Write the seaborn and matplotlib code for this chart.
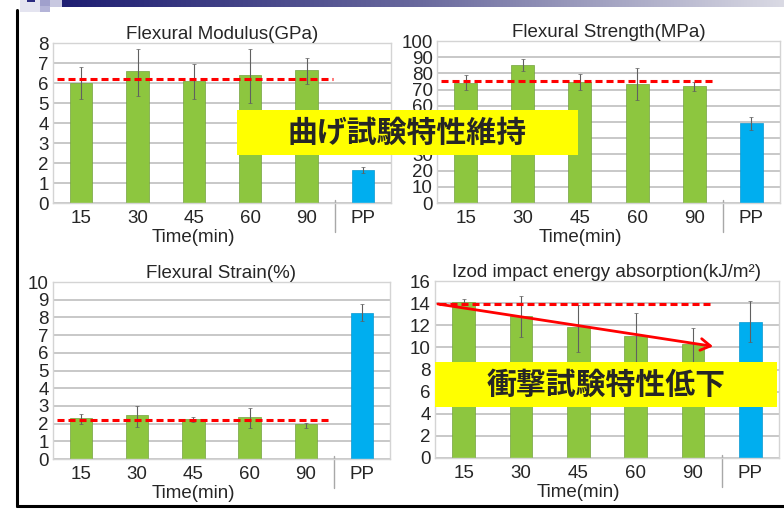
import numpy as np
import pandas as pd
import matplotlib
matplotlib.use("Agg")
import matplotlib.pyplot as plt
import matplotlib.transforms as mtransforms
from matplotlib.colors import LinearSegmentedColormap
from matplotlib.patches import Rectangle
from matplotlib.lines import Line2D
import seaborn as sns

# data
times = ["15", "30", "45", "60", "90", "PP"]

modulus = [6.0, 6.58, 6.08, 6.4, 6.67, 1.65]
modulus_lo = [5.22, 5.33, 5.18, 5.02, 5.97, 1.52]
modulus_hi = [6.8, 7.68, 6.93, 7.68, 7.27, 1.8]
modulus_ref = 6.22

strength = [74.0, 85.4, 74.7, 73.3, 72.4, 49.4]
strength_lo = [69.5, 81.3, 70.0, 63.4, 69.0, 44.9]
strength_hi = [78.8, 89.0, 79.4, 83.3, 74.7, 53.0]
strength_ref = 75.5

strain = [2.29, 2.48, 2.24, 2.35, 1.95, 8.27]
strain_lo = [2.0, 1.82, 2.1, 1.73, 1.77, 7.78]
strain_hi = [2.52, 3.0, 2.39, 2.9, 2.05, 8.78]
strain_ref = 2.18

izod = [14.07, 12.84, 11.88, 11.04, 10.29, 12.33]
izod_lo = [13.8, 10.98, 9.6, 8.72, 8.57, 10.47]
izod_hi = [14.4, 14.65, 13.83, 13.08, 11.73, 14.2]
izod_ref = 13.92

sns.set_style("white")
plt.rcParams["font.family"] = ["Liberation Sans", "DejaVu Sans"]

GREEN = "#8DC63F"
BLUE = "#00AEEF"
W, H = 784, 511

fig = plt.figure(figsize=(7.84, 5.11), dpi=100)


def px_axes(left, top, right, bottom):
    return fig.add_axes([left / W, 1 - bottom / H, (right - left) / W, (bottom - top) / H])


def draw_panel(ax, values, lo, hi, ymax, step, ref, title, ref_end=4.47):
    df = pd.DataFrame({"time": times, "value": values})
    colors = [GREEN] * 5 + [BLUE]
    sns.barplot(data=df, x="time", y="value", hue="time", palette=colors,
                saturation=1, legend=False, width=0.4, ax=ax, linewidth=0.5,
                zorder=2)
    for p, c in zip(ax.patches, colors):
        p.set_edgecolor("#74A23E" if c == GREEN else "#0A98D0")
    x = np.arange(len(times))
    yerr = [np.array(values) - np.array(lo), np.array(hi) - np.array(values)]
    ax.errorbar(x, values, yerr=yerr, fmt="none", ecolor="#606060",
                elinewidth=0.8, capsize=1.2, capthick=0.5, zorder=3)
    ax.hlines(ref, -0.43, ref_end, colors="#FF0000", linewidth=2.2,
              linestyles=(0, (2.3, 1.3)), zorder=4)
    ax.set_xlim(-0.5, 5.5)
    ax.set_ylim(0, ymax)
    ax.set_yticks(np.arange(0, ymax + step / 2, step))
    ax.grid(axis="y", color="#C4C4C4", linewidth=1.3)
    ax.set_axisbelow(True)
    for s in ax.spines.values():
        s.set_color("#D4D4D4")
        s.set_linewidth(1.0)
    ax.tick_params(length=0, labelsize=13.5)
    ax.tick_params(axis="x", pad=5)
    ax.tick_params(axis="y", pad=3)
    ax.set_ylabel("")
    ax.set_title(title, fontsize=13.5, pad=3)
    ax.set_xlabel("Time(min)", fontsize=13.5)
    bbox_h = ax.get_position().height * H
    ax.xaxis.set_label_coords(2.5 / 6, -26 / bbox_h)
    ax.xaxis.label.set_va("top")
    trans = mtransforms.blended_transform_factory(ax.transData, ax.transAxes)
    ax.plot([4.5, 4.5], [3 / bbox_h, -29 / bbox_h], color="#A8A8A8",
            linewidth=1.0, transform=trans, clip_on=False)


ax1 = px_axes(53, 43, 391, 203)
draw_panel(ax1, modulus, modulus_lo, modulus_hi, 8, 1, modulus_ref,
           "Flexural Modulus(GPa)")
ax2 = px_axes(437, 41, 780, 203)
draw_panel(ax2, strength, strength_lo, strength_hi, 100, 10, strength_ref,
           "Flexural Strength(MPa)", ref_end=4.35)
ax3 = px_axes(53, 282, 390, 459)
draw_panel(ax3, strain, strain_lo, strain_hi, 10, 1, strain_ref,
           "Flexural Strain(%)")
ax4 = px_axes(435, 281, 779, 458)
draw_panel(ax4, izod, izod_lo, izod_hi, 16, 2, izod_ref,
           "Izod impact energy absorption(kJ/m²)", ref_end=4.35)

# falling trend arrow on the impact panel
ax4.annotate("", xy=(4.35, izod[4] - 0.2), xytext=(-0.45, izod_ref),
             arrowprops=dict(arrowstyle="->,head_length=0.5,head_width=0.3",
                             color="#FF0000", lw=2,
                             mutation_scale=14, shrinkA=0, shrinkB=0),
             zorder=5)

# yellow call-out boxes
for (l, t, r, b), label in [((237, 110, 578, 155), "曲げ試験特性維持"),
                            ((435, 362, 777, 407), "衝撃試験特性低下")]:
    fig.add_artist(Rectangle((l / W, 1 - b / H), (r - l) / W, (b - t) / H,
                             transform=fig.transFigure, facecolor="#FFFF00",
                             edgecolor="none", zorder=10))
    fig.text((l + r) / 2 / W, 1 - (t + b) / 2 / H, label,
             family=["Noto Sans CJK JP", "DejaVu Sans"], fontweight="bold",
             fontsize=21.5, ha="center", va="center", zorder=11)

# slide decorations: frame lines and header bar
fig.add_artist(Line2D([17 / W, 17 / W], [1 - 506 / H, 1 - 10 / H],
                      transform=fig.transFigure, color="black", lw=2.2))
fig.add_artist(Line2D([17 / W, 1], [1 - 506 / H, 1 - 506 / H],
                      transform=fig.transFigure, color="black", lw=2.2))
bar_ax = fig.add_axes([62 / W, 1 - 7 / H, (W - 62) / W, 7 / H])
cmap = LinearSegmentedColormap.from_list("hdr", ["#1E1E72", "#6A6A9E", "#DADAE4"])
bar_ax.imshow(np.linspace(0, 1, 256)[None, :], aspect="auto", cmap=cmap)
bar_ax.axis("off")
for (l, t, w, h, c) in [(20, 0, 20, 12, "#E4E4F0"), (40, 0, 10, 6, "#A0A0CC"),
                        (40, 6, 10, 6, "#B4B4D8"), (27, 0, 8, 2, "#2A2A80"),
                        (50, 0, 12, 7, "#C8C8E0")]:
    fig.add_artist(Rectangle((l / W, 1 - (t + h) / H), w / W, h / H,
                             transform=fig.transFigure, facecolor=c,
                             edgecolor="none"))

fig.savefig("out.png", dpi=100)
